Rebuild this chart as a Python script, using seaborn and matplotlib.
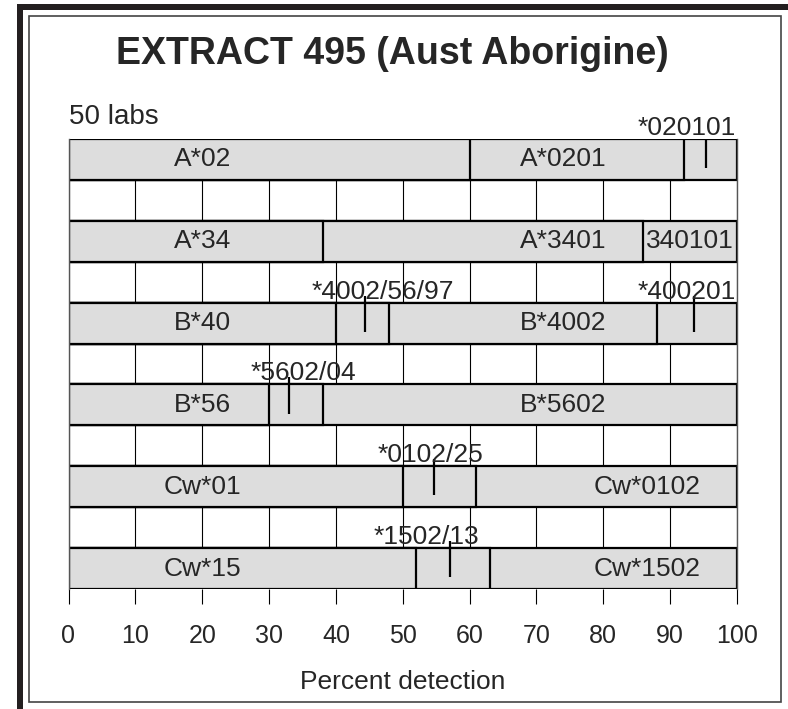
import numpy as np
import pandas as pd
import matplotlib.pyplot as plt
from matplotlib.patches import Rectangle
import seaborn as sns

# data
rows = ['A*02', 'A*34', 'B*40', 'B*56', 'Cw*01', 'Cw*15']
segments = [
    [60, 32, 8],
    [38, 48, 14],
    [40, 8, 40, 12],
    [30, 8, 62],
    [50, 11, 39],
    [52, 11, 37],
]
seg_labels = [
    ['A*02', 'A*0201', ''],
    ['A*34', 'A*3401', '340101'],
    ['B*40', '', 'B*4002', ''],
    ['B*56', '', 'B*5602'],
    ['Cw*01', '', 'Cw*0102'],
    ['Cw*15', '', 'Cw*1502'],
]
marker_rows = ['A*02', 'B*40', 'B*40', 'B*56', 'Cw*01', 'Cw*15']
marker_x = [95.4, 44.3, 93.5, 33.0, 54.6, 57.0]
marker_text = ['*020101', '*4002/56/97', '*400201', '*5602/04', '*0102/25', '*1502/13']

# layout only
label_x = [[20, 74, 93], [20, 74, 93], [20, None, 74, None], [20, None, 74], [20, None, 86.6], [20, None, 86.6]]
marker_text_x = [92.5, 47.0, 92.4, 35.2, 54.1, 53.5]

recs = []
for r, segs in zip(rows, segments):
    cum = np.cumsum(segs)
    for k, c in enumerate(cum):
        recs.append({'row': r, 'level': k, 'end': c})
df = pd.DataFrame(recs)

sns.set_style('white')
plt.rcParams['font.family'] = ['Liberation Sans', 'DejaVu Sans']

fig = plt.figure(figsize=(7.88, 7.09), dpi=100)
ax = fig.add_axes([68.5 / 788, 1 - 589 / 709, (737 - 68.5) / 788, (589 - 139) / 709])

# stacked bars: draw the longest cumulative bar first, shorter ones on top
for k in sorted(df['level'].unique(), reverse=True):
    sns.barplot(data=df[df['level'] == k], x='end', y='row', order=rows, orient='h',
                color='#dddddd', saturation=1, edgecolor='black', linewidth=1.6,
                width=0.5, errorbar=None, ax=ax)

for i, r in enumerate(rows):
    for lab, lx in zip(seg_labels[i], label_x[i]):
        if lab and lx is not None:
            ax.text(lx, i, lab, ha='center', va='center', fontsize=19)

for r, mx, mt, tx in zip(marker_rows, marker_x, marker_text, marker_text_x):
    i = rows.index(r)
    ax.vlines(mx, i - 0.336, i + 0.105, color='black', lw=1.6, zorder=5)
    ax.text(tx, i - 0.30, mt, ha='center', va='baseline', fontsize=19, zorder=6)

ax.set_xlim(0, 100)
ax.set_ylim(5.25, -0.25)
ax.set_xticks(np.arange(0, 101, 10))
ax.grid(axis='x', color='black', lw=0.8)
ax.grid(axis='y', visible=False)
ax.set_axisbelow(True)
ax.set_yticks([])
ax.set_ylabel('')
ax.tick_params(axis='x', bottom=True, direction='out', length=11, width=0.8,
               pad=14, labelsize=18, color='black')
ax.set_xlabel('Percent detection', fontsize=19, labelpad=16)
for s in ['top', 'bottom']:
    ax.spines[s].set_visible(False)
for s in ['left', 'right']:
    ax.spines[s].set_color('#555555')
    ax.spines[s].set_linewidth(1.0)

fig.text(392.5 / 788, 1 - 54 / 709, 'EXTRACT 495 (Aust Aborigine)', ha='center', va='center',
         fontsize=27, fontweight='bold')
fig.text(69 / 788, 1 - 117 / 709, '50 labs', ha='left', va='center', fontsize=20)

# frame: thick shadow band at top/left, thin inner box
W, H = 788, 709
fig.add_artist(Rectangle((17 / W, 0), 6 / W, 1 - 4 / H, transform=fig.transFigure,
                         facecolor='#231f20', edgecolor='none'))
fig.add_artist(Rectangle((17 / W, 1 - 10 / H), 1 - 17 / W, 6 / H, transform=fig.transFigure,
                         facecolor='#231f20', edgecolor='none'))
fig.add_artist(Rectangle((29 / W, 1 - 702 / H), (781 - 29) / W, (702 - 16) / H,
                         transform=fig.transFigure, facecolor='none', edgecolor='#444444', lw=1.2))

fig.savefig('out.png', dpi=100)
